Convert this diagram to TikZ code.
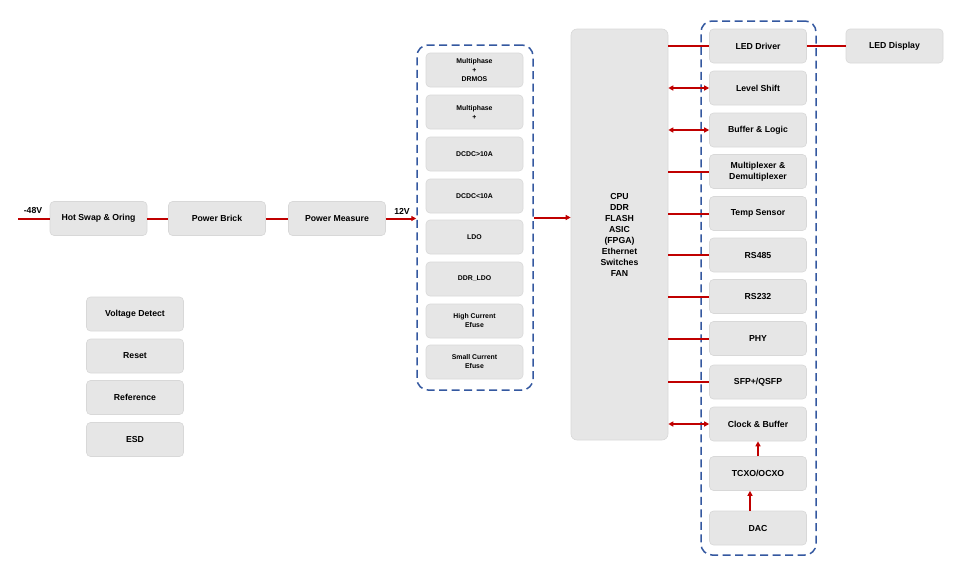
\documentclass[tikz,border=0pt]{standalone}
\usepackage{fontspec}
\setmainfont{Liberation Sans}
\usetikzlibrary{arrows.meta}
\definecolor{boxfill}{RGB}{230,230,230}
\definecolor{boxline}{RGB}{216,216,216}
\definecolor{wire}{RGB}{192,0,0}
\definecolor{grpblue}{RGB}{52,88,160}
\tikzset{
  blk/.style={draw=boxline, line width=0.6pt, fill=boxfill, rounded corners=4pt,
    minimum width=97pt, minimum height=34pt, inner sep=1pt, align=center,
    font=\fontsize{8.7}{11}\selectfont\bfseries},
  smallblk/.style={blk, font=\fontsize{6.9}{9}\selectfont\bfseries},
  grp/.style={draw=grpblue, line width=1.5pt, dash pattern=on 8pt off 4.5pt,
    rounded corners=11pt, fill=none},
  wirel/.style={draw=wire, line width=2pt},
  warr/.style={wirel, -{Triangle[length=5pt,width=5pt]}},
  wdbl/.style={wirel, {Triangle[length=5pt,width=5pt]}-{Triangle[length=5pt,width=5pt]}},
  lbl/.style={font=\fontsize{8.7}{10}\selectfont\bfseries, inner sep=0pt}
}
\begin{document}
\begin{tikzpicture}[x=1pt,y=-1pt]
\useasboundingbox (0,0) rectangle (967,579);
% power chain
\coordinate (vin) at (18,218.5);
\node[blk] (hs) at (98.5,218.5) {Hot Swap \& Oring};
\node[blk] (pb) at (217,218.5) {Power Brick};
\node[blk] (pm) at (337,218.5) {Power Measure};
\node[lbl] (l48) at (33,211) {-48V};
\node[lbl] (l12) at (402,211) {12V};
% power group
\node[grp, minimum width=116pt, minimum height=345pt] (pg) at (475,217.5) {};
\node[smallblk] (p1) at (474.5,70) {Multiphase\\+\\DRMOS};
\node[smallblk] (p2) at (474.5,112) {Multiphase\\+};
\node[smallblk] (p3) at (474.5,154) {DCDC>10A};
\node[smallblk] (p4) at (474.5,196) {DCDC<10A};
\node[smallblk] (p5) at (474.5,237) {LDO};
\node[smallblk] (p6) at (474.5,279) {DDR\_LDO};
\node[smallblk] (p7) at (474.5,321) {High Current\\Efuse};
\node[smallblk] (p8) at (474.5,362) {Small Current\\Efuse};
% CPU
\node[blk, minimum width=97pt, minimum height=411pt, rounded corners=6pt] (cpu) at (619.5,234.5)
  {CPU\\DDR\\FLASH\\ASIC\\(FPGA)\\Ethernet\\Switches\\FAN};
% right group
\node[grp, minimum width=115pt, minimum height=534pt] (rg) at (758.5,288) {};
\node[blk] (led) at (758,46) {LED Driver};
\node[blk] (ls) at (758,88) {Level Shift};
\node[blk] (bl) at (758,130) {Buffer \& Logic};
\node[blk] (mux) at (758,171.5) {Multiplexer \&\\Demultiplexer};
\node[blk] (ts) at (758,213.5) {Temp Sensor};
\node[blk] (rs4) at (758,255) {RS485};
\node[blk] (rs2) at (758,296.5) {RS232};
\node[blk] (phy) at (758,338.5) {PHY};
\node[blk] (sfp) at (758,382) {SFP+/QSFP};
\node[blk] (clk) at (758,424) {Clock \& Buffer};
\node[blk] (tcxo) at (758,473.5) {TCXO/OCXO};
\node[blk] (dac) at (758,528) {DAC};
\node[blk] (disp) at (894.5,46) {LED Display};
% misc
\node[blk] (vd) at (135,314) {Voltage Detect};
\node[blk] (rst) at (135,356) {Reset};
\node[blk] (ref) at (135,397.5) {Reference};
\node[blk] (esd) at (135,439.5) {ESD};
% connectors
\draw[wirel] (vin) -- (hs.west);
\draw[wirel] (hs.east) -- (pb.west);
\draw[wirel] (pb.east) -- (pm.west);
\draw[warr] (pm.east) -- (pg.west |- pm.east);
\draw[warr] (pg.east |- 0,217.5) -- (cpu.west |- 0,217.5);
\draw[wirel] (cpu.east |- led) -- (led.west);
\draw[wirel] (led.east) -- (disp.west);
\draw[wdbl] (cpu.east |- ls) -- (ls.west);
\draw[wdbl] (cpu.east |- bl) -- (bl.west);
\draw[wirel] (cpu.east |- mux) -- (mux.west);
\draw[wirel] (cpu.east |- ts) -- (ts.west);
\draw[wirel] (cpu.east |- rs4) -- (rs4.west);
\draw[wirel] (cpu.east |- rs2) -- (rs2.west);
\draw[wirel] (cpu.east |- phy) -- (phy.west);
\draw[wirel] (cpu.east |- sfp) -- (sfp.west);
\draw[wdbl] (cpu.east |- clk) -- (clk.west);
\draw[warr] (tcxo.north) -- (clk.south);
\draw[warr] ([xshift=-8pt]dac.north) -- ([xshift=-8pt]tcxo.south);
\end{tikzpicture}
\end{document}
